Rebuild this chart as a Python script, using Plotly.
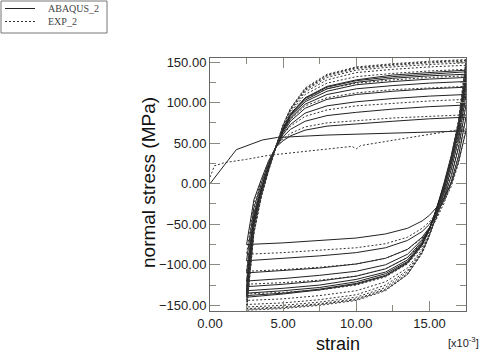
import plotly.graph_objects as go

# ---------------- data (strain in 1e-3, stress in MPa) ----------------
UP_STRAIN = [2.5, 3.0, 3.5, 4.0, 4.5, 5.0, 5.5, 6.5, 8.0, 10.0, 12.5, 15.0, 17.5]
LO_STRAIN = [17.5, 17.0, 16.5, 16.0, 15.5, 15.0, 14.5, 13.5, 12.0, 10.0, 7.5, 5.0, 2.5]

abaqus_init_x = [0.0, 1.8, 3.6, 4.6, 8.0, 12.0, 17.5]
abaqus_init_y = [0, 42, 54, 57, 60, 62, 65]

abaqus_lower = [
    [65, 28, 0, -17, -29, -39, -46, -55, -62, -67, -70, -73, -75],
    [82, 35, 3, -20, -37, -50, -59, -70, -79, -85, -89, -92, -95],
    [97, 45, 10, -17, -38, -54, -66, -81, -92, -99, -104, -107, -110],
    [110, 55, 18, -12, -36, -55, -69, -87, -100, -108, -113, -117, -120],
    [119, 62, 24, -8, -34, -55, -71, -91, -105, -114, -120, -124, -127],
    [126, 67, 28, -5, -32, -55, -73, -94, -109, -118, -125, -129, -132],
    [131, 70, 31, -3, -31, -56, -74, -96, -111, -121, -128, -132, -135],
    [135, 73, 33, -1, -30, -56, -75, -97, -113, -123, -130, -135, -138],
    [138, 75, 35, 1, -30, -57, -76, -98, -114, -124, -131, -136, -140],
]
abaqus_upper = [
    [-75, -20, 5, 28, 45, 53, 59, 66, 71, 74, 77, 80, 82],
    [-95, -30, 0, 25, 45, 58, 67, 77, 84, 88, 92, 95, 97],
    [-110, -38, -5, 22, 45, 61, 73, 87, 96, 101, 105, 108, 110],
    [-120, -42, -7, 21, 45, 63, 77, 93, 104, 110, 114, 117, 119],
    [-127, -45, -8, 21, 45, 65, 80, 98, 110, 117, 121, 124, 126],
    [-132, -47, -9, 20, 45, 66, 82, 101, 114, 122, 126, 129, 131],
    [-135, -48, -9, 20, 45, 67, 84, 103, 117, 125, 130, 133, 135],
    [-138, -49, -10, 20, 45, 68, 85, 105, 119, 127, 132, 135, 138],
    [-140, -50, -10, 20, 45, 68, 86, 106, 120, 128, 134, 137, 140],
]

exp_init_x = [0.0, 0.3, 1.0, 2.5, 4.0, 7.0, 9.7, 10.0, 10.3, 13.0, 17.5]
exp_init_y = [8, 22, 26, 30, 35, 41, 46, 43, 47, 55, 68]

exp_lower = [
    [68, 26, -3, -22, -36, -47, -55, -66, -74, -79, -82, -85, -87],
    [85, 35, 1, -24, -43, -57, -67, -81, -92, -99, -103, -106, -108],
    [104, 48, 10, -19, -42, -60, -73, -91, -105, -114, -119, -122, -124],
    [120, 58, 17, -15, -41, -62, -78, -99, -115, -125, -131, -134, -136],
    [133, 67, 24, -11, -39, -63, -81, -104, -121, -132, -138, -142, -144],
    [141, 72, 28, -8, -38, -63, -83, -107, -125, -137, -143, -147, -149],
    [146, 75, 31, -6, -37, -64, -84, -109, -128, -140, -146, -150, -152],
    [149, 77, 33, -5, -37, -64, -85, -111, -130, -142, -148, -152, -154],
    [151, 78, 34, -4, -36, -64, -85, -112, -131, -143, -149, -153, -155],
    [152, 79, 35, -4, -36, -64, -86, -112, -132, -144, -150, -154, -156],
]
exp_upper = [
    [-87, -25, 3, 27, 45, 55, 62, 70, 75, 78, 81, 83, 85],
    [-108, -36, -3, 24, 46, 61, 71, 83, 91, 96, 99, 102, 104],
    [-124, -44, -8, 21, 46, 65, 79, 96, 106, 112, 116, 118, 120],
    [-136, -50, -11, 19, 46, 68, 85, 105, 117, 124, 128, 131, 133],
    [-144, -54, -13, 18, 46, 70, 88, 110, 124, 132, 136, 139, 141],
    [-149, -57, -14, 17, 46, 71, 90, 113, 128, 137, 141, 144, 146],
    [-152, -59, -15, 17, 46, 72, 91, 115, 131, 140, 144, 147, 149],
    [-154, -60, -16, 16, 46, 72, 92, 116, 133, 142, 146, 149, 151],
    [-155, -61, -16, 16, 46, 72, 92, 117, 134, 143, 147, 150, 152],
    [-156, -61, -17, 16, 46, 73, 93, 118, 135, 144, 148, 151, 153],
]

series_names = ["ABAQUS_2", "EXP_2"]
y_ticks = [-150, -100, -50, 0, 50, 100, 150]
x_ticks = [0, 5, 10, 15]


def build_path(init_x, init_y, lowers, uppers):
    xs, ys = list(init_x), list(init_y)
    for i, lo in enumerate(lowers):
        xs += LO_STRAIN
        ys += lo
        if i < len(uppers):
            xs += UP_STRAIN
            ys += uppers[i]
    return xs, ys


ax, ay = build_path(abaqus_init_x, abaqus_init_y, abaqus_lower, abaqus_upper)
ex, ey = build_path(exp_init_x, exp_init_y, exp_lower, exp_upper)

LINE_COLOR = "#222222"
EXP_COLOR = "#333333"
EXP_DASH = "2px,2px"

fig = go.Figure()
fig.add_trace(go.Scatter(x=ax, y=ay, mode="lines", name=series_names[0],
                         showlegend=False, line=dict(color=LINE_COLOR, width=1)))
fig.add_trace(go.Scatter(x=ex, y=ey, mode="lines", name=series_names[1],
                         showlegend=False, line=dict(color=EXP_COLOR, width=1, dash=EXP_DASH)))

L, R, T, B = 210, 16, 58, 42
W, H = 482, 353
pw, ph = W - L - R, H - T - B


def px(xp):
    return (xp - L) / pw


def py(yp):
    return (H - B - yp) / ph


axis_common = dict(
    showgrid=False, zeroline=False, showline=True, linecolor="#666666",
    linewidth=1, mirror="ticks", ticks="inside", ticklen=10,
    tickcolor="#8a8a80", tickwidth=1, automargin=False,
    tickfont=dict(family="Liberation Sans, Arial, sans-serif", size=13, color="#222222"),
)

# legend box drawn in page coordinates
shapes = [
    dict(type="rect", xref="paper", yref="paper", x0=px(1), x1=px(107), y0=py(1), y1=py(33),
         line=dict(color="#777777", width=1), fillcolor="white", layer="above"),
    dict(type="line", xref="paper", yref="paper", x0=px(5), x1=px(35), y0=py(8.5), y1=py(8.5),
         line=dict(color=LINE_COLOR, width=1), layer="above"),
    dict(type="line", xref="paper", yref="paper", x0=px(5), x1=px(35), y0=py(21.5), y1=py(21.5),
         line=dict(color=EXP_COLOR, width=1, dash=EXP_DASH), layer="above"),
]

legend_font = dict(family="Liberation Serif, Times New Roman, serif", size=10, color="#444444")

fig.update_layout(
    width=W, height=H,
    margin=dict(l=L, r=R, t=T, b=B, autoexpand=False),
    paper_bgcolor="white", plot_bgcolor="white",
    showlegend=False,
    xaxis=dict(range=[0, 17.5], tickvals=x_ticks, tickformat=".2f",
               minor=dict(dtick=2.5, ticks="inside", ticklen=6, tickcolor="#8a8a80"),
               **axis_common),
    yaxis=dict(range=[-157, 155], tickvals=y_ticks, tickformat=".2f",
               minor=dict(dtick=25, ticks="inside", ticklen=6, tickcolor="#8a8a80"),
               **axis_common),
    shapes=shapes,
    annotations=[
        dict(text=series_names[0], xref="paper", yref="paper", x=px(46), y=py(8.5),
             showarrow=False, xanchor="left", yanchor="middle", font=legend_font),
        dict(text=series_names[1], xref="paper", yref="paper", x=px(46), y=py(21.5),
             showarrow=False, xanchor="left", yanchor="middle", font=legend_font),
        dict(text="normal stress (MPa)", xref="paper", yref="paper",
             x=px(148), y=py(183), textangle=-90,
             showarrow=False, xanchor="center", yanchor="middle",
             font=dict(family="Liberation Sans, Arial, sans-serif", size=19, color="#111111")),
        dict(text="strain", xref="paper", yref="paper",
             x=0.5, y=py(344), showarrow=False,
             xanchor="center", yanchor="middle",
             font=dict(family="Liberation Sans, Arial, sans-serif", size=18, color="#111111")),
        dict(text="[x10<sup>-3</sup>]", xref="paper", yref="paper",
             x=px(463), y=py(342), showarrow=False,
             xanchor="center", yanchor="middle",
             font=dict(family="Liberation Sans, Arial, sans-serif", size=11, color="#222222")),
    ],
)

fig.write_html("out.html", config={"displayModeBar": False},
               post_script="document.body.style.margin='0px';")
